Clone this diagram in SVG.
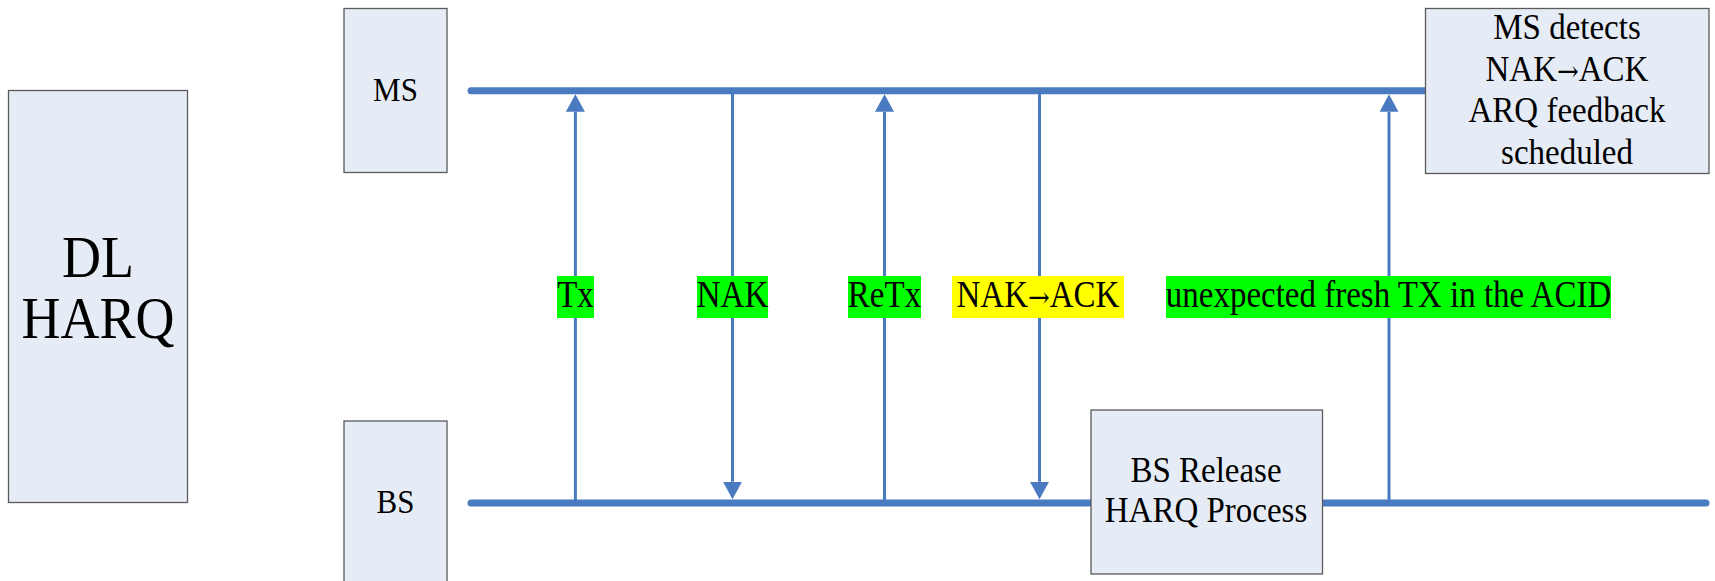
<svg xmlns="http://www.w3.org/2000/svg" width="1715" height="581" viewBox="0 0 1715 581">
<style>
.box{fill:#E6ECF6;stroke:#5a5a5a;stroke-width:1.3}
.t{font-family:"Liberation Serif","Times New Roman",serif;fill:#000;text-anchor:middle}
.ar{font-family:"DejaVu Serif",serif;font-size:26px}
.time{stroke:#4A7ABF;stroke-width:7;stroke-linecap:round;fill:none}
.msg{stroke:#4A7ABF;stroke-width:3;fill:none}
.g{fill:#00FF00}
.y{fill:#FFFF00}
</style>
<defs>
<marker id="ah" markerUnits="userSpaceOnUse" markerWidth="18" markerHeight="19" refX="0" refY="9.5" orient="auto">
<path d="M0,0 L17.5,9.5 L0,19 Z" fill="#4A7ABF"/>
</marker>
</defs>
<rect width="1715" height="581" fill="#fff"/>
<g id="dl-harq">
<rect class="box" x="8.5" y="90.5" width="179" height="412"/>
<text class="t" transform="translate(98,277) scale(1,1.08)" font-size="54">DL</text>
<text class="t" transform="translate(98,338) scale(1,1.08)" font-size="54">HARQ</text>
</g>
<g id="ms">
<rect class="box" x="344" y="8.5" width="103" height="164"/>
<text class="t" transform="translate(395.5,101) scale(1,1.1)" font-size="31">MS</text>
</g>
<g id="bs">
<rect class="box" x="344" y="421" width="103" height="166"/>
<text class="t" transform="translate(395.5,513) scale(1,1.1)" font-size="31">BS</text>
</g>
<g id="connectors">
<line class="time" x1="471" y1="90.7" x2="1425" y2="90.7"/>
<line class="time" x1="471" y1="503" x2="1706" y2="503"/>
<line class="msg" x1="575.4" y1="503" x2="575.4" y2="111.8" marker-end="url(#ah)"/>
<line class="msg" x1="732.5" y1="91" x2="732.5" y2="481.8" marker-end="url(#ah)"/>
<line class="msg" x1="884.5" y1="503" x2="884.5" y2="111.8" marker-end="url(#ah)"/>
<line class="msg" x1="1039.5" y1="91" x2="1039.5" y2="481.8" marker-end="url(#ah)"/>
<line class="msg" x1="1389" y1="503" x2="1389" y2="111.8" marker-end="url(#ah)"/>
</g>
<g id="ms-detects">
<rect class="box" x="1425.5" y="8.5" width="283.5" height="165"/>
<text class="t" transform="translate(1567,38.5) scale(1,1.1)" font-size="33">MS detects</text>
<text class="t" transform="translate(1567,80.5) scale(1,1.1)" font-size="33">NAK<tspan class="ar">→</tspan>ACK</text>
<text class="t" transform="translate(1567,122) scale(1,1.1)" font-size="33">ARQ feedback</text>
<text class="t" transform="translate(1567,163.5) scale(1,1.1)" font-size="33">scheduled</text>
</g>
<g id="bs-release">
<rect class="box" x="1091" y="410" width="231.5" height="164"/>
<text class="t" transform="translate(1206,481.5) scale(1,1.1)" font-size="33">BS Release</text>
<text class="t" transform="translate(1206,521.5) scale(1,1.1)" font-size="33">HARQ Process</text>
</g>
<g id="label-tx">
<rect class="g" x="557" y="276" width="37" height="42"/>
<text class="t" transform="translate(575.5,307) scale(1,1.12)" font-size="33">Tx</text>
</g>
<g id="label-nak">
<rect class="g" x="697" y="276" width="71" height="42"/>
<text class="t" transform="translate(732.5,307) scale(1,1.12)" font-size="33">NAK</text>
</g>
<g id="label-retx">
<rect class="g" x="848" y="276" width="73" height="42"/>
<text class="t" transform="translate(884.5,307) scale(1,1.12)" font-size="33">ReTx</text>
</g>
<g id="label-nak-ack">
<rect class="y" x="952" y="276" width="172" height="42"/>
<text class="t" transform="translate(1038,307) scale(1,1.12)" font-size="33">NAK<tspan class="ar">→</tspan>ACK</text>
</g>
<g id="label-fresh">
<rect class="g" x="1166" y="276" width="445" height="42"/>
<text class="t" transform="translate(1388.5,307) scale(1,1.12)" font-size="33">unexpected fresh TX in the ACID</text>
</g>
</svg>
